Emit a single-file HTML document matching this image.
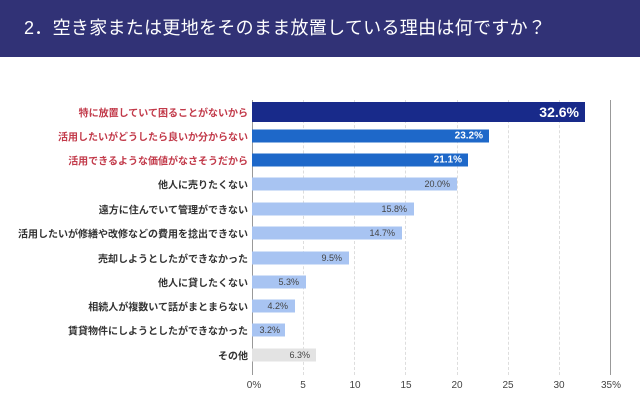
<!DOCTYPE html>
<html><head><meta charset="utf-8"><style>
body{margin:0;width:640px;height:409px;background:#fff;font-family:"Liberation Sans","Noto Sans CJK JP",sans-serif;overflow:hidden;position:relative}
.hd{position:absolute;left:0;top:0;width:640px;height:57px;background:#313276;color:#fff;font-size:18px;line-height:56px;padding-left:24px;box-sizing:border-box;letter-spacing:0.3px}
.l{position:absolute;right:392px;font-size:10px;color:#333;white-space:nowrap;transform:translateY(-50%);font-weight:bold}
.r{color:#c23a4a}
.b{position:absolute;left:252px;height:13px;transform:translateY(-50%)}
.v{position:absolute;font-size:9px;color:#444;transform:translateY(-50%);text-align:right}
.g{position:absolute;top:100px;height:275px;border-left:1px dashed #ddd}
.t{position:absolute;top:380px;font-size:10px;color:#444;transform:translateX(-50%)}
</style></head><body>
<div class="hd">2．空き家または更地をそのまま放置している理由は何ですか？</div>
<div class="g" style="left:303px"></div><div class="g" style="left:354px"></div><div class="g" style="left:405px"></div><div class="g" style="left:457px"></div><div class="g" style="left:508px"></div><div class="g" style="left:559px"></div>
<div style="position:absolute;left:252px;top:100px;height:275px;border-left:1px solid #999"></div>
<div style="position:absolute;left:610px;top:100px;height:275px;border-left:1px solid #999"></div>

<div class="l r" style="top:112px">特に放置していて困ることがないから</div>
<div class="b" style="top:112px;height:20px;width:333px;background:#182a8a"></div>
<div class="v" style="top:112px;right:61px;color:#fff;font-size:14px;font-weight:bold">32.6%</div>

<div class="l r" style="top:136px">活用したいがどうしたら良いか分からない</div>
<div class="b" style="top:136px;width:237px;background:#1e68c9"></div>
<div class="v" style="top:136px;right:157px;color:#fff;font-weight:bold;font-size:10px">23.2%</div>

<div class="l r" style="top:160px">活用できるような価値がなさそうだから</div>
<div class="b" style="top:160px;width:216px;background:#1e68c9"></div>
<div class="v" style="top:160px;right:178px;color:#fff;font-weight:bold;font-size:10px">21.1%</div>

<div class="l" style="top:184px">他人に売りたくない</div>
<div class="b" style="top:184px;width:205px;background:#a8c4f2"></div>
<div class="v" style="top:184px;right:190px">20.0%</div>

<div class="l" style="top:209px">遠方に住んでいて管理ができない</div>
<div class="b" style="top:209px;width:162px;background:#a8c4f2"></div>
<div class="v" style="top:209px;right:233px">15.8%</div>

<div class="l" style="top:233px">活用したいが修繕や改修などの費用を捻出できない</div>
<div class="b" style="top:233px;width:150px;background:#a8c4f2"></div>
<div class="v" style="top:233px;right:245px">14.7%</div>

<div class="l" style="top:258px">売却しようとしたができなかった</div>
<div class="b" style="top:258px;width:97px;background:#a8c4f2"></div>
<div class="v" style="top:258px;right:298px">9.5%</div>

<div class="l" style="top:282px">他人に貸したくない</div>
<div class="b" style="top:282px;width:54px;background:#a8c4f2"></div>
<div class="v" style="top:282px;right:341px">5.3%</div>

<div class="l" style="top:306px">相続人が複数いて話がまとまらない</div>
<div class="b" style="top:306px;width:43px;background:#a8c4f2"></div>
<div class="v" style="top:306px;right:352px">4.2%</div>

<div class="l" style="top:330px">賃貸物件にしようとしたができなかった</div>
<div class="b" style="top:330px;width:33px;background:#a8c4f2"></div>
<div class="v" style="top:330px;right:360px">3.2%</div>

<div class="l" style="top:355px">その他</div>
<div class="b" style="top:355px;width:64px;background:#e3e3e3"></div>
<div class="v" style="top:355px;right:330px">6.3%</div>

<div class="t" style="left:254px">0%</div><div class="t" style="left:303px">5</div><div class="t" style="left:355px">10</div><div class="t" style="left:406px">15</div><div class="t" style="left:457px">20</div><div class="t" style="left:508px">25</div><div class="t" style="left:559px">30</div><div class="t" style="left:611px">35%</div>
</body></html>
